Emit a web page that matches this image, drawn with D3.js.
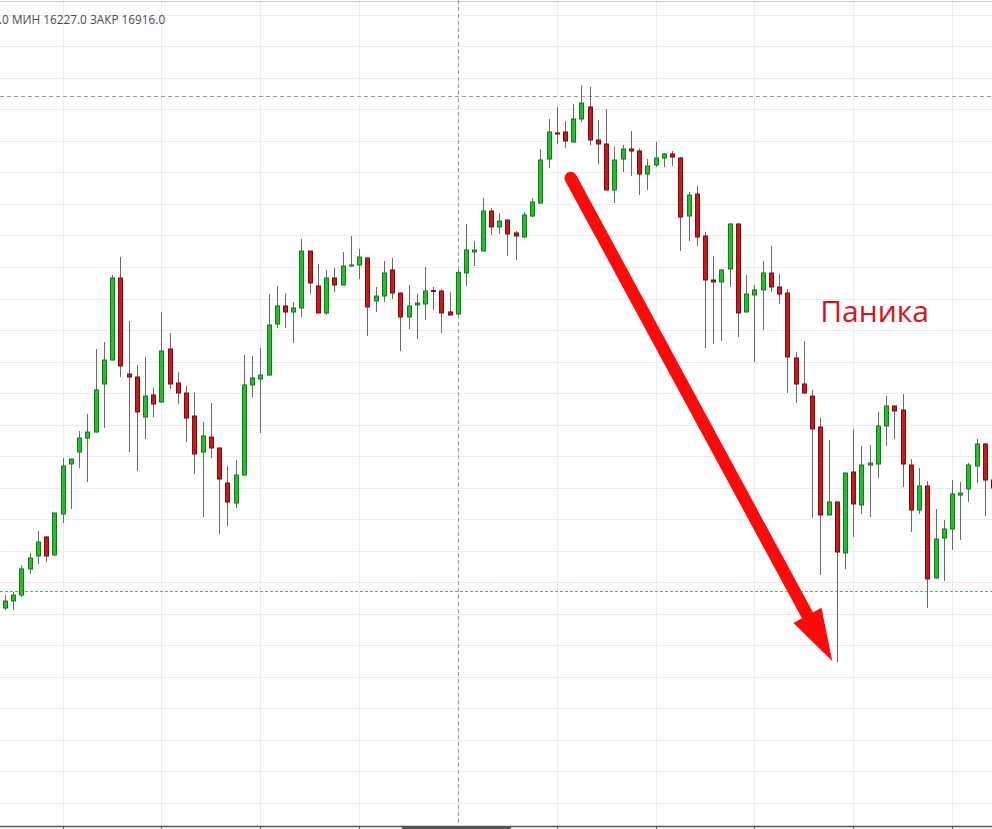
<!DOCTYPE html>
<html><head><meta charset="utf-8">
<script src="https://cdn.jsdelivr.net/npm/d3@7"></script>
<style>html,body{margin:0;padding:0;background:#fff;overflow:hidden}</style>
</head><body><svg id="c" width="992" height="829"></svg>
<script>
// ---- data (price values) ----
const highV  = [11798,11846,12274,12464,12813,12734,13105,13971,13960,14399,14669,15700,15811,16873,17159,16144,15446,15573,15081,16287,
15954,15335,15113,15010,14542,14843,14135,13844,13939,15605,15589,15716,16572,16699,16588,16445,17444,17260,17048,16953,
16985,17238,17492,17286,17150,16683,17095,17143,16595,16715,16572,17000,16683,16651,16604,16953,17682,17413,18095,17936,
17857,17752,17571,17873,18095,18872,19348,19538,19316,19586,19887,19855,19332,19506,18904,18935,19157,18880,18713,18983,
18808,18840,18750,18190,18285,17555,17175,16969,17698,17698,16873,16715,17095,17333,16889,16651,15652,15827,15050,14605,
14257,13280,13740,14431,14161,14177,14701,14954,14800,14986,13955,13812,13606,13162,12988,13622,13590,13892,14272,14209,13781];
const openV  = [11592,11703,11798,12211,12417,12718,12433,13083,13876,14066,14288,14383,15145,15525,16826,15303,15256,14621,14970,14859,
15700,15161,15002,14637,14066,14304,14130,13575,13257,13701,15129,15224,15287,16096,16382,16287,16350,17254,16699,16271,
16826,16715,17016,17032,17143,16461,16540,16953,16588,16207,16398,16414,16628,16620,16287,16255,16905,17238,17254,17888,
17635,17746,17540,17476,17809,18015,18713,19126,19141,18983,19348,19538,19015,18951,18222,18713,18872,18840,18475,18618,
18729,18793,18729,17809,18158,17492,16794,16763,16969,17682,16287,16556,16636,16905,16683,16588,15557,15145,14954,14463,
13067,13273,12464,13749,13226,13860,13876,14479,14796,14732,13860,13146,13527,12068,12702,12845,13384,13480,13844,14193,13622];
const closeV = [11703,11798,12211,12385,12639,12417,13099,13844,13955,14288,14383,15050,15525,16826,15430,15256,14701,14954,14828,15668,
15145,15002,14605,14035,14320,14130,13638,13273,13701,15129,15240,15287,16080,16382,16287,16350,17254,16747,16271,16826,
16715,17016,17032,17159,16366,16540,16905,16588,16207,16382,16429,16620,16612,16271,16239,16916,17270,17270,17888,17635,
17730,17524,17492,17825,18031,18697,19141,19110,18999,19348,19601,19015,18951,18222,18697,18872,18840,18475,18602,18729,
18793,18745,17793,18142,17476,16794,16763,16953,17682,16271,16572,16636,16905,16683,16572,15573,15145,15002,14431,13067,
13273,12480,13733,13242,13860,13892,14479,14796,14716,13876,13146,13527,12052,12686,12845,13400,13416,13860,14193,13622,13495];
const lowV   = [11560,11560,11767,12131,12290,12322,12425,12940,13162,13812,13590,14375,14447,15520,15256,14066,13765,14272,14621,14850,
15065,14828,14225,13717,13035,13971,12766,12893,13178,13695,14939,14368,15280,16033,16033,15795,16207,16572,16265,16239,
16604,16710,17010,16810,15906,16287,16445,16493,15668,16017,15858,16160,16318,15954,16230,16227,16699,17016,17250,17508,
17524,17175,17111,17470,17793,18010,18570,18951,18888,18975,19300,18935,18634,18215,18015,18507,18444,18142,18222,18586,
18586,18602,17254,17413,17333,15716,15779,15827,16683,15890,16280,15494,16001,16604,16414,15002,14843,14995,13020,12115,
13060,10736,12211,12718,13083,13035,13654,14161,14272,13511,12797,13083,11592,12060,12020,12512,12671,13273,13575,13051,13384];

const dateTickIndex = [7,19,31,43,55,67,79,91,103,115];
const crosshairIndex = 55;
const crosshairPrice = 19712;
const levelPrice = 11861;
const infoText = ".0 МИН 16227.0 ЗАКР 16916.0";
const annotationText = "Паника";
const annotationAt = {i: 99.0, p: 16128};
const arrowFrom = {i: 68.7, p: 18412};
const arrowTo = {i: 100.45, p: 10751};

// ---- layout ----
const W = 992, H = 829, axisY = 826;
const svg = d3.select("#c");
const x = d3.scaleLinear().domain([0, 120]).range([5, 993.2]);
const y = d3.scaleLinear().domain([8087, 21235]).range([H, 0]);

svg.append("rect").attr("width", W).attr("height", H).attr("fill", "#fff");

// horizontal grid
svg.append("g").selectAll("line").data(d3.range(8500, 21001, 500)).join("line")
  .attr("x1", 0).attr("x2", W)
  .attr("y1", d => Math.round(y(d)) + 0.5).attr("y2", d => Math.round(y(d)) + 0.5)
  .attr("stroke", "#ececec").attr("stroke-width", 1);
// vertical grid
svg.append("g").selectAll("line").data(dateTickIndex).join("line")
  .attr("x1", d => Math.round(x(d)) + 0.5).attr("x2", d => Math.round(x(d)) + 0.5)
  .attr("y1", 0).attr("y2", axisY)
  .attr("stroke", "#ececec").attr("stroke-width", 1);

// top border
svg.append("line").attr("x1", 0).attr("x2", W).attr("y1", 1.5).attr("y2", 1.5)
  .attr("stroke", "#cfcfcf");

// info text
svg.append("text").attr("x", -1).attr("y", 24).text(infoText)
  .attr("font-family", "'Open Sans', sans-serif").attr("font-size", 11.8).attr("fill", "#4a4a4a");

// crosshair
svg.append("line").attr("x1", 0).attr("x2", W)
  .attr("y1", Math.round(y(crosshairPrice)) + 0.5).attr("y2", Math.round(y(crosshairPrice)) + 0.5)
  .attr("stroke", "#9a9a9a").attr("stroke-dasharray", "4,3");
svg.append("line").attr("x1", Math.round(x(crosshairIndex)) + 0.5).attr("x2", Math.round(x(crosshairIndex)) + 0.5)
  .attr("y1", 0).attr("y2", axisY)
  .attr("stroke", "#9a9a9a").attr("stroke-dasharray", "4,3");

// level line (green dashed)
svg.append("line").attr("x1", 0).attr("x2", W)
  .attr("y1", Math.round(y(levelPrice)) + 0.5).attr("y2", Math.round(y(levelPrice)) + 0.5)
  .attr("stroke", "#3ccc3c").attr("stroke-width", 1).attr("stroke-dasharray", "3,2")
  .attr("shape-rendering", "crispEdges");

// candles
const candles = openV.map((o, i) => ({i, o, h: highV[i], l: lowV[i], c: closeV[i]}));
const g = svg.append("g");
g.selectAll("line.wick").data(candles).join("line").attr("class", "wick")
  .attr("x1", d => Math.round(x(d.i)) + 0.5).attr("x2", d => Math.round(x(d.i)) + 0.5)
  .attr("y1", d => y(d.h)).attr("y2", d => y(d.l))
  .attr("stroke", "#6a6a6a").attr("stroke-width", 1);
g.selectAll("rect.body").data(candles).join("rect").attr("class", "body")
  .attr("x", d => Math.round(x(d.i)) - 2 + 0.5)
  .attr("width", 4)
  .attr("y", d => y(Math.max(d.o, d.c)))
  .attr("height", d => Math.max(1, Math.abs(y(d.o) - y(d.c))))
  .attr("fill", d => d.c >= d.o ? "#22c02a" : "#cf1717")
  .attr("stroke", d => d.c >= d.o ? "#127a18" : "#7a0d0d")
  .attr("stroke-width", 1);

// bottom axis
svg.append("line").attr("x1", 0).attr("x2", W).attr("y1", axisY + 0.5).attr("y2", axisY + 0.5)
  .attr("stroke", "#555").attr("stroke-width", 1.5);
svg.append("g").selectAll("line").data(dateTickIndex).join("line")
  .attr("x1", d => Math.round(x(d)) + 0.5).attr("x2", d => Math.round(x(d)) + 0.5)
  .attr("y1", axisY).attr("y2", H).attr("stroke", "#555");
svg.append("rect").attr("x", x(crosshairIndex) - 56).attr("width", 109)
  .attr("y", axisY).attr("height", H - axisY).attr("fill", "#555");

// arrow
const ax0 = x(arrowFrom.i), ay0 = y(arrowFrom.p), ax1 = x(arrowTo.i), ay1 = y(arrowTo.p);
const len = Math.hypot(ax1 - ax0, ay1 - ay0), ux = (ax1 - ax0) / len, uy = (ay1 - ay0) / len;
const headLen = 52, headHalf = 16;
const bx = ax1 - ux * headLen, by = ay1 - uy * headLen;
svg.append("line").attr("x1", ax0).attr("y1", ay0).attr("x2", bx + ux * 4).attr("y2", by + uy * 4)
  .attr("stroke", "#ff0a0a").attr("stroke-width", 12.5).attr("stroke-linecap", "round");
svg.append("path")
  .attr("d", `M${ax1},${ay1}L${bx - uy * headHalf},${by + ux * headHalf}L${bx + uy * headHalf},${by - ux * headHalf}Z`)
  .attr("fill", "#ff0a0a");

// annotation
svg.append("text").attr("x", x(annotationAt.i)).attr("y", y(annotationAt.p)).text(annotationText)
  .attr("font-family", "'Open Sans', sans-serif").attr("font-size", 30).attr("fill", "#d8141b");
</script></body></html>
